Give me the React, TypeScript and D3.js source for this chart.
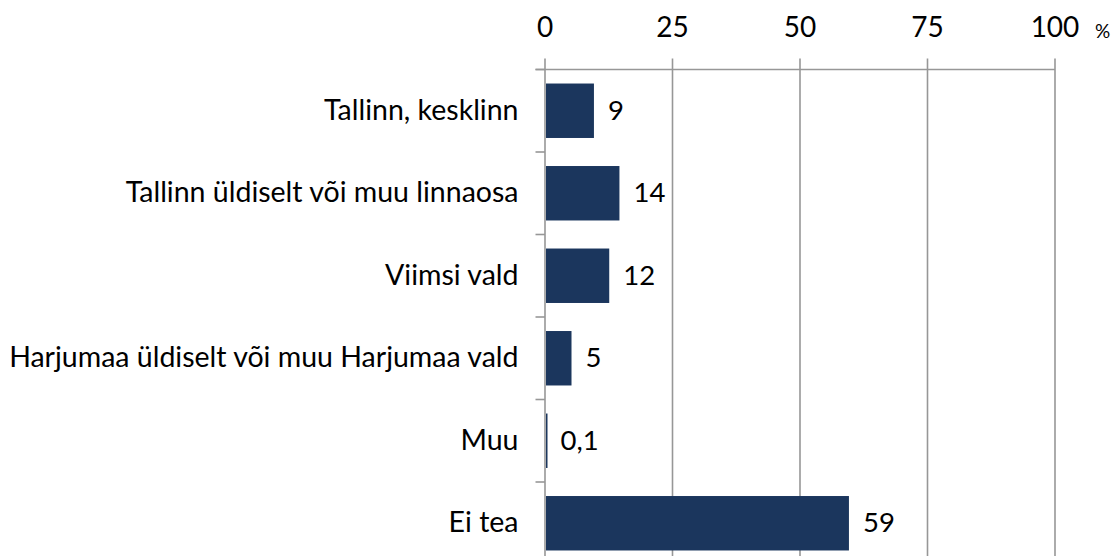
import React from "react";
import * as d3 from "d3";

const categories = [
  "Tallinn, kesklinn",
  "Tallinn üldiselt või muu linnaosa",
  "Viimsi vald",
  "Harjumaa üldiselt või muu Harjumaa vald",
  "Muu",
  "Ei tea",
];
const values = [9.4, 14.4, 12.4, 5.0, 0.1, 59.4];
const tickValues = [0, 25, 50, 75, 100];

const fmt = (v: number) => (v < 1 ? v.toFixed(1).replace(".", ",") : String(Math.round(v)));

export default function App() {
  const W = 1117, H = 556;
  const x0 = 545, x1 = 1055, yTop = 69.5, band = 82.5;
  const yBot = yTop + categories.length * band;
  const x = d3.scaleLinear().domain([0, 100]).range([x0, x1]);
  const y = d3.scaleBand<string>().domain(categories).range([yTop, yBot]).paddingInner(0.34).paddingOuter(0.17);
  const font = "Lato, 'Open Sans', sans-serif";
  const grid = "#979797";
  const bounds = d3.range(categories.length + 1).map((i) => yTop + i * band);
  return (
    <svg width={W} height={H} style={{ position: "absolute", left: 0, top: 0, background: "#fff" }} fontFamily={font}>
      {tickValues.map((t) => (
        <g key={t}>
          <line x1={x(t)} x2={x(t)} y1={58.5} y2={H} stroke={grid} strokeWidth={1.6} />
          <text x={x(t)} y={37} textAnchor="middle" fontSize={28} fill="#000">{t}</text>
        </g>
      ))}
      <text x={1095} y={37.5} fontSize={19} fill="#000">%</text>
      <line x1={535.5} x2={x(100)} y1={yTop} y2={yTop} stroke={grid} strokeWidth={1.6} />
      {bounds.map((b, i) => (
        <line key={i} x1={535.5} x2={x0} y1={b} y2={b} stroke={grid} strokeWidth={1.6} />
      ))}
      {categories.map((c, i) => {
        const cy = (y(c) as number) + y.bandwidth() / 2;
        return (
          <g key={c}>
            <rect x={x(0) + 1} y={y(c)} width={Math.max(1.5, x(values[i]) - x(0))} height={y.bandwidth()} fill="#1b365d" />
            <text x={x(values[i]) + 15} y={cy + 9} fontSize={27.5} fill="#000">{fmt(values[i])}</text>
            <text x={518.5} y={cy + 9} textAnchor="end" fontSize={28.5} fill="#000">{c}</text>
          </g>
        );
      })}
    </svg>
  );
}
